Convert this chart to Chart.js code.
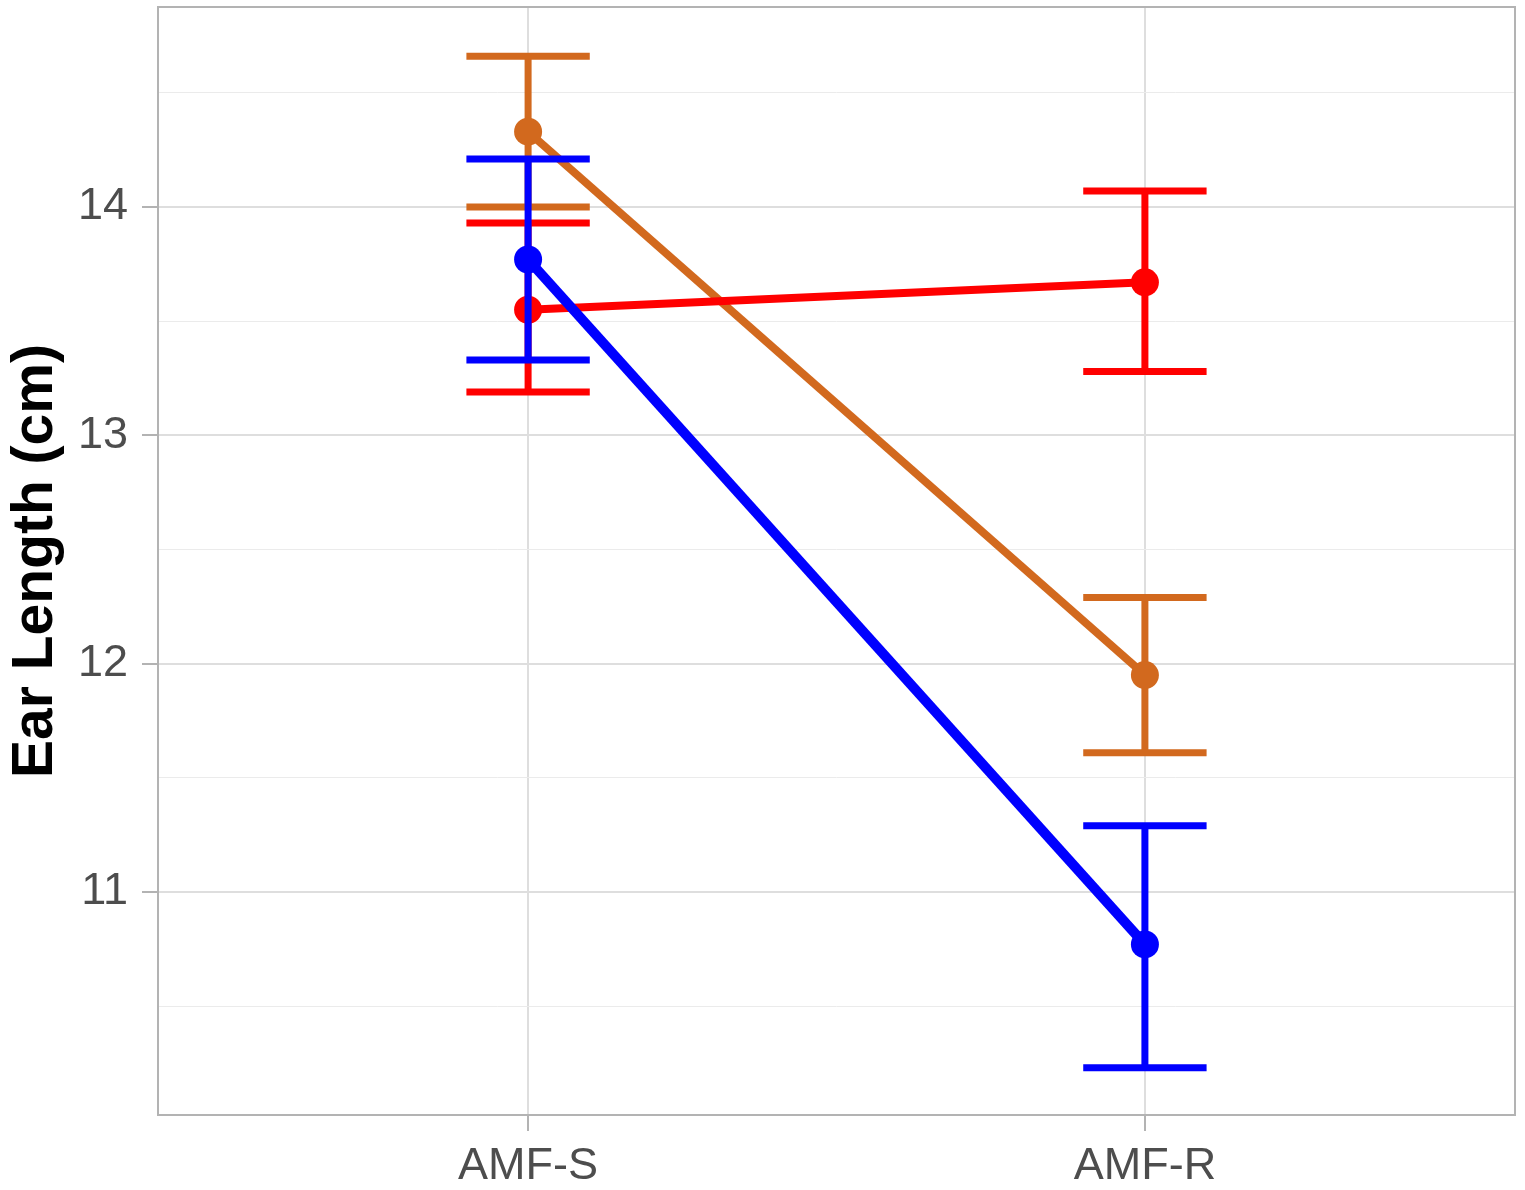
<html>
<head>
    <title>Ear Length</title>
    <script src="https://cdn.jsdelivr.net/npm/chart.js@4.4.1/dist/chart.umd.min.js"></script>
    <style>
        body { margin: 0; background: #ffffff; }
    </style>
</head>
<body>
    <canvas id="plotCanvas" width="1525" height="1190"></canvas>
    <script>
        // ========= Data ===============================
        const categories = ['AMF-S', 'AMF-R']
        const xPositions = [1, 2]
        const yTickValues = [10.5, 11, 11.5, 12, 12.5, 13, 13.5, 14, 14.5]

        const orangeMean = [14.33, 11.95]
        const orangeLow = [14.0, 11.61]
        const orangeHigh = [14.66, 12.29]

        const redMean = [13.55, 13.67]
        const redLow = [13.19, 13.28]
        const redHigh = [13.93, 14.07]

        const blueMean = [13.77, 10.77]
        const blueLow = [13.33, 10.23]
        const blueHigh = [14.21, 11.29]

        const series = [
            { color: '#D2691E', mean: orangeMean, low: orangeLow, high: orangeHigh, width: 8, order: 2 },
            { color: '#FF0000', mean: redMean, low: redLow, high: redHigh, width: 8, order: 1 },
            { color: '#0000FF', mean: blueMean, low: blueLow, high: blueHigh, width: 10, order: 0 },
        ]

        const capHalf = 0.1

        // ========= Error bars drawn under each dataset ==========
        const errorBars = {
            id: 'errorBars',
            beforeDatasetDraw(chart, args) {
                const s = series[args.index]
                const { ctx, scales: { x, y } } = chart
                ctx.save()
                ctx.strokeStyle = s.color
                ctx.lineWidth = 7
                ctx.lineCap = 'butt'
                xPositions.forEach((xv, i) => {
                    const px = x.getPixelForValue(xv)
                    const pl = x.getPixelForValue(xv - capHalf)
                    const pr = x.getPixelForValue(xv + capHalf)
                    const top = y.getPixelForValue(s.high[i])
                    const bot = y.getPixelForValue(s.low[i])
                    ctx.beginPath()
                    ctx.moveTo(px, top); ctx.lineTo(px, bot)
                    ctx.moveTo(pl, top); ctx.lineTo(pr, top)
                    ctx.moveTo(pl, bot); ctx.lineTo(pr, bot)
                    ctx.stroke()
                })
                ctx.restore()
            },
            afterDraw(chart) {
                const { ctx, chartArea: a } = chart
                ctx.save()
                ctx.strokeStyle = '#b3b3b3'
                ctx.lineWidth = 2
                ctx.strokeRect(a.left, a.top, a.right - a.left, a.bottom - a.top)
                ctx.restore()
            },
        }

        const isMajor = v => Math.abs(v - Math.round(v)) < 1e-9

        new Chart(document.getElementById('plotCanvas'), {
            type: 'line',
            data: {
                datasets: series.map(s => ({
                    data: xPositions.map((xv, i) => ({ x: xv, y: s.mean[i] })),
                    borderColor: s.color,
                    backgroundColor: s.color,
                    pointBackgroundColor: s.color,
                    borderWidth: s.width,
                    pointRadius: 14,
                    pointBorderWidth: 0,
                    pointHoverRadius: 14,
                    tension: 0,
                    order: s.order,
                    clip: false,
                })),
            },
            options: {
                responsive: false,
                devicePixelRatio: 1,
                animation: false,
                layout: { autoPadding: false, padding: { top: 7, right: 10, left: 0, bottom: 0 } },
                plugins: { legend: { display: false }, tooltip: { enabled: false } },
                scales: {
                    x: {
                        type: 'linear',
                        min: 0.4,
                        max: 2.6,
                        afterBuildTicks: scale => { scale.ticks = xPositions.map(v => ({ value: v })) },
                        afterFit: scale => {
                            scale.height = 75
                            scale.paddingLeft = 0
                            scale.paddingRight = 0
                        },
                        ticks: {
                            callback: v => categories[xPositions.indexOf(v)],
                            color: '#4d4d4d',
                            font: { family: 'Liberation Sans', size: 45 },
                            padding: 9,
                            maxRotation: 0,
                            autoSkip: false,
                        },
                        grid: {
                            color: '#dedede',
                            lineWidth: 2,
                            tickColor: '#b3b3b3',
                            tickLength: 16,
                            tickWidth: 2,
                        },
                        border: { display: false },
                    },
                    y: {
                        min: 10.023,
                        max: 14.876,
                        afterBuildTicks: scale => { scale.ticks = yTickValues.map(v => ({ value: v })) },
                        afterFit: scale => {
                            scale.width = 158
                            scale.paddingTop = 0
                            scale.paddingBottom = 0
                        },
                        ticks: {
                            callback: v => (isMajor(v) ? String(v) : ''),
                            color: '#4d4d4d',
                            font: { family: 'Liberation Sans', size: 45 },
                            padding: 14,
                            autoSkip: false,
                        },
                        grid: {
                            color: c => (isMajor(c.tick.value) ? '#dedede' : '#ebebeb'),
                            lineWidth: c => (isMajor(c.tick.value) ? 2 : 1),
                            tickColor: c => (isMajor(c.tick.value) ? '#b3b3b3' : 'rgba(0,0,0,0)'),
                            tickLength: 16,
                            tickWidth: 2,
                        },
                        border: { display: false },
                        title: {
                            display: true,
                            text: 'Ear Length (cm)',
                            color: '#000000',
                            font: { family: 'Liberation Sans', size: 57, weight: 'bold' },
                            padding: { top: 2, bottom: 0 },
                        },
                    },
                },
            },
            plugins: [errorBars],
        })
    </script>
</body>
</html>
